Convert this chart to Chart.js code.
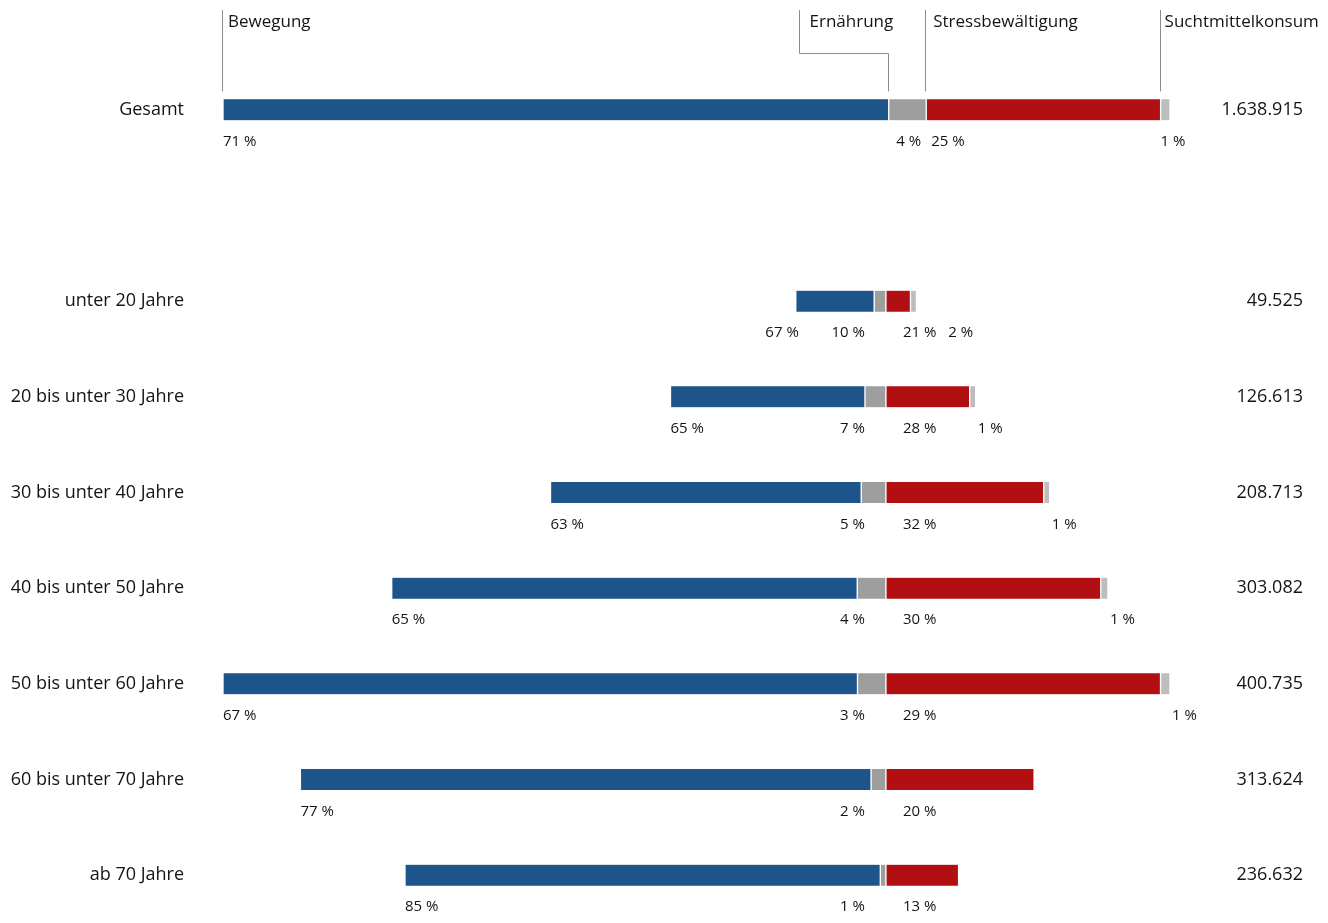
<!DOCTYPE html>
<html lang="de">
<head>
<meta charset="utf-8">
<title>Handlungsfelder nach Altersgruppen</title>
<script src="https://cdn.jsdelivr.net/npm/chart.js@4.4.1/dist/chart.umd.min.js"></script>
<style>
  html, body { margin: 0; padding: 0; background: #fff; overflow: hidden; }
  canvas { display: block; }
</style>
</head>
<body>
<canvas id="canvas" width="1328" height="923"></canvas>
<script>
// rows, top to bottom
var groups = ['Gesamt', 'unter 20 Jahre', '20 bis unter 30 Jahre', '30 bis unter 40 Jahre',
              '40 bis unter 50 Jahre', '50 bis unter 60 Jahre', '60 bis unter 70 Jahre', 'ab 70 Jahre'];
var totals = [1638915, 49525, 126613, 208713, 303082, 400735, 313624, 236632];

// shares in percent
var bewegung   = [71, 67, 65, 63, 65, 67, 77, 85];
var ernaehrung = [4, 10, 7, 5, 4, 3, 2, 1];
var stress     = [25, 21, 28, 32, 30, 29, 20, 13];
var sucht      = [1, 2, 1, 1, 1, 1, 0, 0];

var fields = ['Bewegung', 'Ernährung', 'Stressbewältigung', 'Suchtmittelkonsum'];
var colors = ['#1d5489', '#9e9e9e', '#b20f13', '#bdbdbd'];
var shares = [bewegung, ernaehrung, stress, sucht];

var FONT = '"Open Sans", sans-serif';
var TEXT = '#141414';

function fmt(n) {
        return String(n).replace(/\B(?=(\d{3})+(?!\d))/g, '.');
}

// age rows are drawn to scale around 0 (left: Bewegung+Ernährung, right: Stress+Sucht).
// Gesamt is drawn with the width of the widest age row, starting at its left edge.
var refRow = 1;
for (var r = 2; r < groups.length; r++) if (totals[r] > totals[refRow]) refRow = r;
var refT = totals[refRow];
var refLeft = -(bewegung[refRow] + ernaehrung[refRow]) / 100 * refT;

function segments(i) {
        var out = [];
        if (i === 0) {
                var sum = bewegung[0] + ernaehrung[0] + stress[0] + sucht[0];
                var pos = refLeft;
                shares.forEach(function(arr) {
                        var w = arr[0] / sum * refT;
                        out.push(arr[0] ? [pos, pos + w] : null);
                        pos += w;
                });
                return out;
        }
        var T = totals[i];
        var l = -(bewegung[i] + ernaehrung[i]) / 100 * T;
        var s = stress[i] / 100 * T;
        out.push([l, l + bewegung[i] / 100 * T]);
        out.push(ernaehrung[i] ? [-ernaehrung[i] / 100 * T, 0] : null);
        out.push([0, s]);
        out.push(sucht[i] ? [s, s + sucht[i] / 100 * T] : null);
        return out;
}

var xMax = refLeft + refT;
for (var k = 1; k < groups.length; k++) {
        xMax = Math.max(xMax, (stress[k] + sucht[k]) / 100 * totals[k]);
}

// an empty slot between Gesamt and the age groups
var rowLabels = [groups[0], ''].concat(groups.slice(1));
var totalLabels = [fmt(totals[0]), ''].concat(totals.slice(1).map(fmt));
function slot(i) { return i === 0 ? 0 : i + 1; }

var datasets = fields.map(function(name, d) {
        var data = rowLabels.map(function() { return null; });
        groups.forEach(function(g, i) { data[slot(i)] = segments(i)[d]; });
        return {
                label: name,
                data: data,
                backgroundColor: colors[d],
                borderColor: '#ffffff',
                borderWidth: { left: 1, right: 1, top: 0, bottom: 0 },
                borderSkipped: false,
                barThickness: 21,
                minBarLength: d === 3 ? 6 : 0,
                grouped: false
        };
});

// fixed axis width, and no extra space above/below the axis
function fixWidth(w) {
        return function(s) {
                s.width = w;
                s.paddingTop = 0;
                s.paddingBottom = 0;
        };
}

var shareLabels = {
        id: 'shareLabels',
        afterDatasetsDraw: function(chart) {
                var ctx = chart.ctx;
                ctx.save();
                ctx.font = '15px ' + FONT;
                ctx.fillStyle = TEXT;
                ctx.textBaseline = 'alphabetic';
                ctx.textAlign = 'left';
                groups.forEach(function(g, i) {
                        var gesamt = i === 0;
                        var items = [];
                        shares.forEach(function(arr, d) {
                                var v = arr[i];
                                if (!v) return;
                                var el = chart.getDatasetMeta(d).data[slot(i)];
                                var left = Math.min(el.base, el.x), right = Math.max(el.base, el.x);
                                var text = v + ' %';
                                var w = ctx.measureText(text).width;
                                var x;
                                if (d === 0) x = left;
                                else if (d === 1) x = (w + 10 < right - left) ? right - 5 - w : right - 21 - w;
                                else if (d === 2) x = left + (gesamt ? 5 : 17);
                                else x = gesamt ? left : right + 2;
                                items.push({ text: text, x: x, w: w, d: d, y: el.y + 36, start: left });
                        });
                        if (items[1] && items[0].x + items[0].w + 10 > items[1].x) {
                                items[0].x = items[0].start + 3 - items[0].w;
                        }
                        for (var n = 1; n < items.length; n++) {
                                if (items[n].d === 3 && items[n].x < items[n - 1].x + items[n - 1].w + 12) {
                                        items[n].x = items[n - 1].x + items[n - 1].w + 12;
                                }
                        }
                        items.forEach(function(it) { ctx.fillText(it.text, it.x, it.y); });
                });
                ctx.restore();
        }
};

var headers = {
        id: 'headers',
        afterDatasetsDraw: function(chart) {
                var ctx = chart.ctx;
                var els = fields.map(function(f, d) { return chart.getDatasetMeta(d).data[0]; });
                var top = els[0].y - els[0].height / 2 - 8;
                ctx.save();
                ctx.font = '17px ' + FONT;
                ctx.fillStyle = TEXT;
                ctx.strokeStyle = '#8c8c8c';
                ctx.lineWidth = 1;
                ctx.textBaseline = 'alphabetic';
                ctx.textAlign = 'left';
                var yText = 27, yLine = 10;

                function vline(x, y1, y2) {
                        ctx.beginPath();
                        ctx.moveTo(Math.round(x) - 0.5, y1);
                        ctx.lineTo(Math.round(x) - 0.5, y2);
                        ctx.stroke();
                }

                // Bewegung
                var x0 = Math.min(els[0].base, els[0].x);
                vline(x0, yLine, top);
                ctx.fillText(fields[0], x0 + 5, yText);

                // Ernährung, moved to the left with a bracket
                var x1 = Math.min(els[1].base, els[1].x);
                var w1 = ctx.measureText(fields[1]).width;
                var bx = Math.round(x1 - w1 - 5) - 0.5;
                var mid = 53.5;
                ctx.beginPath();
                ctx.moveTo(bx, yLine);
                ctx.lineTo(bx, mid);
                ctx.lineTo(Math.round(x1) - 0.5, mid);
                ctx.lineTo(Math.round(x1) - 0.5, top);
                ctx.stroke();
                ctx.fillText(fields[1], bx + 10, yText);

                // Stressbewältigung
                var x2 = Math.min(els[2].base, els[2].x);
                vline(x2, yLine, top);
                ctx.fillText(fields[2], x2 + 7, yText);

                // Suchtmittelkonsum
                var x3 = Math.min(els[3].base, els[3].x);
                vline(x3, yLine, top);
                ctx.fillText(fields[3], x3 + 4, yText);
                ctx.restore();
        }
};

var config = {
        type: 'bar',
        data: {
                labels: rowLabels,
                datasets: datasets
        },
        options: {
                indexAxis: 'y',
                responsive: false,
                animation: false,
                layout: { padding: { top: 62, right: 25, bottom: 0, left: 0 } },
                plugins: {
                        legend: { display: false },
                        tooltip: { enabled: false }
                },
                scales: {
                        x: { type: 'linear', display: false, min: refLeft, max: xMax },
                        y: {
                                type: 'category',
                                position: 'left',
                                grid: { display: false, drawTicks: false },
                                border: { display: false },
                                ticks: { padding: 39, color: TEXT, font: { family: FONT, size: 18 } },
                                afterFit: fixWidth(223)
                        },
                        y2: {
                                type: 'category',
                                labels: totalLabels,
                                position: 'right',
                                offset: true,
                                grid: { display: false, drawTicks: false },
                                border: { display: false },
                                ticks: { crossAlign: 'far', color: TEXT, font: { family: FONT, size: 18 } },
                                afterFit: fixWidth(133)
                        }
                }
        },
        plugins: [shareLabels, headers]
};

window.onload = function() {
        var ctx = document.getElementById('canvas').getContext('2d');
        window.myBar = new Chart(ctx, config);
};
</script>
</body>
</html>
